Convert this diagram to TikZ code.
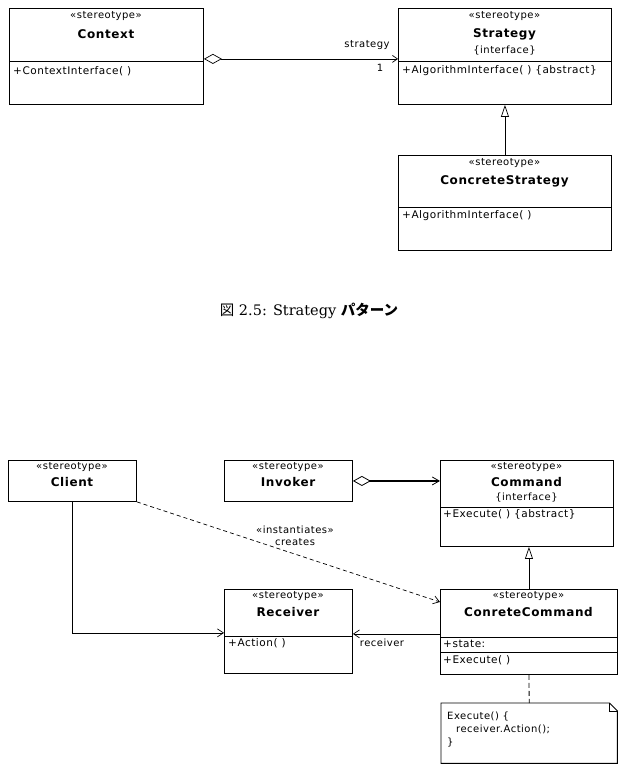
\documentclass[tikz,border=0pt]{standalone}
\usepackage{fontspec}
\usepackage{tikz}
\usetikzlibrary{arrows.meta,positioning,calc}
\setmainfont{DejaVu Sans}[LetterSpace=5]
\newfontfamily\capfont{DejaVu Serif}
\newfontfamily\jpfont{Noto Sans CJK JP}

\begin{document}
\begin{tikzpicture}[x=1pt,y=-1pt,>=Latex,
  box/.style={draw,line width=0.9pt,anchor=north west,inner sep=0pt},
  ster/.style={font=\fontsize{10}{11.5}\selectfont,inner sep=0pt},
  cname/.style={font=\fontsize{12}{14}\selectfont\bfseries,inner sep=0pt},
  oper/.style={font=\fontsize{10.5}{12}\selectfont,inner sep=0pt,anchor=west},
  assoc/.style={line width=0.7pt,-{Straight Barb[length=6pt,width=8pt]}},
  gen/.style={line width=0.7pt,-{Triangle[open,length=12pt,width=8pt]}},
  dep/.style={line width=0.7pt,dash pattern=on 4pt off 3pt,-{Straight Barb[length=6pt,width=8pt]}}]
  \useasboundingbox (0,0) rectangle (618,779);

  % Strategy pattern
  \node[box,minimum width=194,minimum height=53] (ctxh) at (9,8) {};
  \node[box,minimum width=194,minimum height=43] (ctxo) at (9,61) {};
  \node[ster] (ctxst) at (106,16) {«stereotype»};
  \node[cname] (ctxnm) at (106,34) {Context};
  \node[oper] (ctxop) at (13,71) {+ContextInterface( )};

  \node[box,minimum width=213,minimum height=53] (strh) at (398,8) {};
  \node[box,minimum width=213,minimum height=43] (stro) at (398,61) {};
  \node[ster] (strst) at (504.5,16) {«stereotype»};
  \node[cname] (strnm) at (504.5,34) {Strategy};
  \node[ster] (strif) at (504.5,51) {\{interface\}};
  \node[oper] (strop) at (402,71) {+AlgorithmInterface( ) \{abstract\}};

  \node[box,minimum width=213,minimum height=52] (cstrh) at (398,155) {};
  \node[box,minimum width=213,minimum height=43] (cstro) at (398,207) {};
  \node[ster] (cstrst) at (504.5,163) {«stereotype»};
  \node[cname] (cstrnm) at (504.5,181) {ConcreteStrategy};
  \node[oper] (cstrop) at (402,216) {+AlgorithmInterface( )};

  \draw[line width=0.7pt,{Diamond[open,length=18pt,width=10pt]}-{Straight Barb[length=5pt,width=7pt]}]
    ([yshift=3pt]ctxh.south east) -- ([yshift=3pt]strh.south west);
  \node[ster] (lblstrat) at (367,45) {strategy};
  \node[ster] (lblone) at (380,68) {1};
  \draw[gen] (cstrh.north) -- (stro.south);

  \node (cap) at (309,311) {\capfont\fontsize{14.5}{17}\selectfont{\jpfont 図} 2.5: Strategy {\jpfont\bfseries パターン}};

  % Command pattern
  \node[box,minimum width=128,minimum height=41] (client) at (8,460) {};
  \node[ster] (clst) at (72,467) {«stereotype»};
  \node[cname] (clnm) at (72,482) {Client};

  \node[box,minimum width=128,minimum height=41] (invoker) at (224,460) {};
  \node[ster] (invst) at (288,467) {«stereotype»};
  \node[cname] (invnm) at (288,482) {Invoker};

  \node[box,minimum width=173,minimum height=47] (cmdh) at (440,460) {};
  \node[box,minimum width=173,minimum height=39] (cmdo) at (440,507) {};
  \node[ster] (cmdst) at (526.5,467) {«stereotype»};
  \node[cname] (cmdnm) at (526.5,482) {Command};
  \node[ster] (cmdif) at (526.5,498) {\{interface\}};
  \node[oper] (cmdop) at (443,514) {+Execute( ) \{abstract\}};

  \node[box,minimum width=177,minimum height=48] (cch) at (440,589) {};
  \node[box,minimum width=177,minimum height=15] (ccs) at (440,637) {};
  \node[box,minimum width=177,minimum height=22] (cco) at (440,652) {};
  \node[ster] (ccst) at (528.5,596) {«stereotype»};
  \node[cname] (ccnm) at (528.5,612) {ConreteCommand};
  \node[oper] (ccattr) at (443,644) {+state:};
  \node[oper] (ccop) at (443,660) {+Execute( )};

  \node[box,minimum width=128,minimum height=47] (rech) at (224,589) {};
  \node[box,minimum width=128,minimum height=37] (reco) at (224,636) {};
  \node[ster] (recst) at (288,596) {«stereotype»};
  \node[cname] (recnm) at (288,612) {Receiver};
  \node[oper] (recop) at (228,643) {+Action( )};

  \node[anchor=north west,minimum width=176,minimum height=60,inner sep=0pt] (note) at (441,703) {};
  \draw[line width=0.9pt] (note.north west) -- ([xshift=-8pt]note.north east)
    -- ([yshift=-8pt]note.north east) -- (note.south east) -- (note.south west) -- cycle;
  \draw[line width=1.5pt] ([yshift=-8pt]note.north east) -- (note.south east) -- (note.south west);
  \draw[line width=0.6pt] ([xshift=-8pt]note.north east) |- ([yshift=-8pt]note.north east);
  \node[oper,anchor=north west,align=left,font=\fontsize{10}{13}\selectfont] (notetxt) at (447,712)
    {Execute() \{\\\hspace*{9pt}receiver.Action();\\\}};

  \draw[line width=1.6pt,{Diamond[open,length=18pt,width=10pt,line width=0.8pt]}-{Straight Barb[length=7pt,width=8pt,line width=0.8pt]}]
    (invoker.east) -- (invoker.east -| cmdh.west);
  \draw[dep] (client.south east) -- ([yshift=-13pt]cch.north west);
  \node[ster,align=center] (lblinst) at (295,536) {«instantiates»\\creates};
  \draw[gen] (cch.north) -- (cch.north |- cmdo.south);
  \draw[assoc] (client.south) |- ([yshift=4pt]rech.south west);
  \draw[assoc] ([yshift=4pt]cch.south west) -- ([yshift=4pt]cch.south west -| rech.east);
  \node[ster] (lblrecv) at (382,643) {receiver};
  \draw[line width=0.8pt,dash pattern=on 5pt off 3pt] (cco.south) -- (note.north);
\end{tikzpicture}
\end{document}
